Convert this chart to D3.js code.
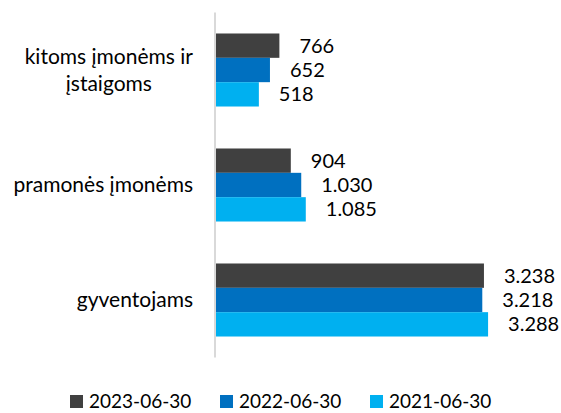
<!DOCTYPE html>
<html>
<head>
<meta charset="utf-8">
<script src="https://cdn.jsdelivr.net/npm/d3@7"></script>
<style>
  body { margin: 0; background: #fff; }
  text { font-family: Lato, "Open Sans", sans-serif; fill: #000; }
</style>
</head>
<body>
<div id="chart"></div>
<script>
const width = 561;
const height = 413;

// categories top to bottom, each label split into lines
const categories = ["kitoms įmonėms ir įstaigoms", "pramonės įmonėms", "gyventojams"];
const categoryLines = [["kitoms įmonėms ir", "įstaigoms"], ["pramonės įmonėms"], ["gyventojams"]];
const series = ["2023-06-30", "2022-06-30", "2021-06-30"];
const values2023 = [766, 904, 3238];
const values2022 = [652, 1030, 3218];
const values2021 = [518, 1085, 3288];
const colors = ["#404040", "#0070C0", "#00B0F0"];

const seriesValues = [values2023, values2022, values2021];

const fmt = d3.formatLocale({ decimal: ",", thousands: ".", grouping: [3], currency: ["", ""] }).format(",d");

const svg = d3.select("#chart").append("svg")
    .attr("width", width)
    .attr("height", height);

// scales
const x = d3.scaleLinear().domain([0, 4000]).range([216, 547]);
const y = d3.scaleBand()
    .domain(categories)
    .range([12.5, 357.5])
    .paddingInner(0.365)
    .paddingOuter(0.1825);
const ySub = d3.scaleBand().domain(series).range([0, y.bandwidth()]);

// bars
const groups = svg.selectAll(".group")
    .data(categories)
    .enter().append("g")
    .attr("class", "group")
    .attr("transform", d => `translate(0,${y(d)})`);

groups.selectAll("rect")
    .data((d, i) => series.map((s, j) => ({ s, j, v: seriesValues[j][i] })))
    .enter().append("rect")
    .attr("x", x(0))
    .attr("y", d => ySub(d.s))
    .attr("width", d => x(d.v) - x(0))
    .attr("height", ySub.bandwidth())
    .style("fill", d => colors[d.j]);

// value labels
groups.selectAll(".val")
    .data((d, i) => series.map((s, j) => ({ s, j, v: seriesValues[j][i] })))
    .enter().append("text")
    .attr("class", "val")
    .attr("x", d => x(d.v) + 20)
    .attr("y", d => ySub(d.s) + ySub.bandwidth() / 2)
    .attr("dy", "0.35em")
    .style("font-size", "20px")
    .text(d => fmt(d.v));

// vertical axis line
svg.append("line")
    .attr("x1", 215).attr("x2", 215)
    .attr("y1", y.range()[0]).attr("y2", y.range()[1])
    .style("stroke", "#d9d9d9")
    .style("stroke-width", 2);

// category labels
const lineH = 27;
categories.forEach((c, i) => {
    const lines = categoryLines[i];
    const cy = y(c) + y.bandwidth() / 2;
    const t = svg.append("text")
        .style("font-size", "21px")
        .attr("text-anchor", "middle");
    lines.forEach((l, k) => {
        t.append("tspan")
            .attr("y", cy + (k - (lines.length - 1) / 2) * lineH)
            .attr("dy", "0.35em")
            .text(l);
    });
    // right-align the block at x = 193, lines centred within it
    let w = 0;
    t.selectAll("tspan").each(function () { w = Math.max(w, this.getComputedTextLength()); });
    t.selectAll("tspan").attr("x", 193 - w / 2);
});

// legend
const legendX = [70, 220, 370];
const legend = svg.selectAll(".legend")
    .data(series)
    .enter().append("g")
    .attr("class", "legend")
    .attr("transform", (d, i) => `translate(${legendX[i]},400)`);

legend.append("rect")
    .attr("x", 0)
    .attr("y", -5)
    .attr("width", 13)
    .attr("height", 13)
    .style("fill", (d, i) => colors[i]);

legend.append("text")
    .attr("x", 19)
    .attr("y", 1)
    .attr("dy", "0.35em")
    .style("font-size", "19px")
    .text(d => d);
</script>
</body>
</html>
